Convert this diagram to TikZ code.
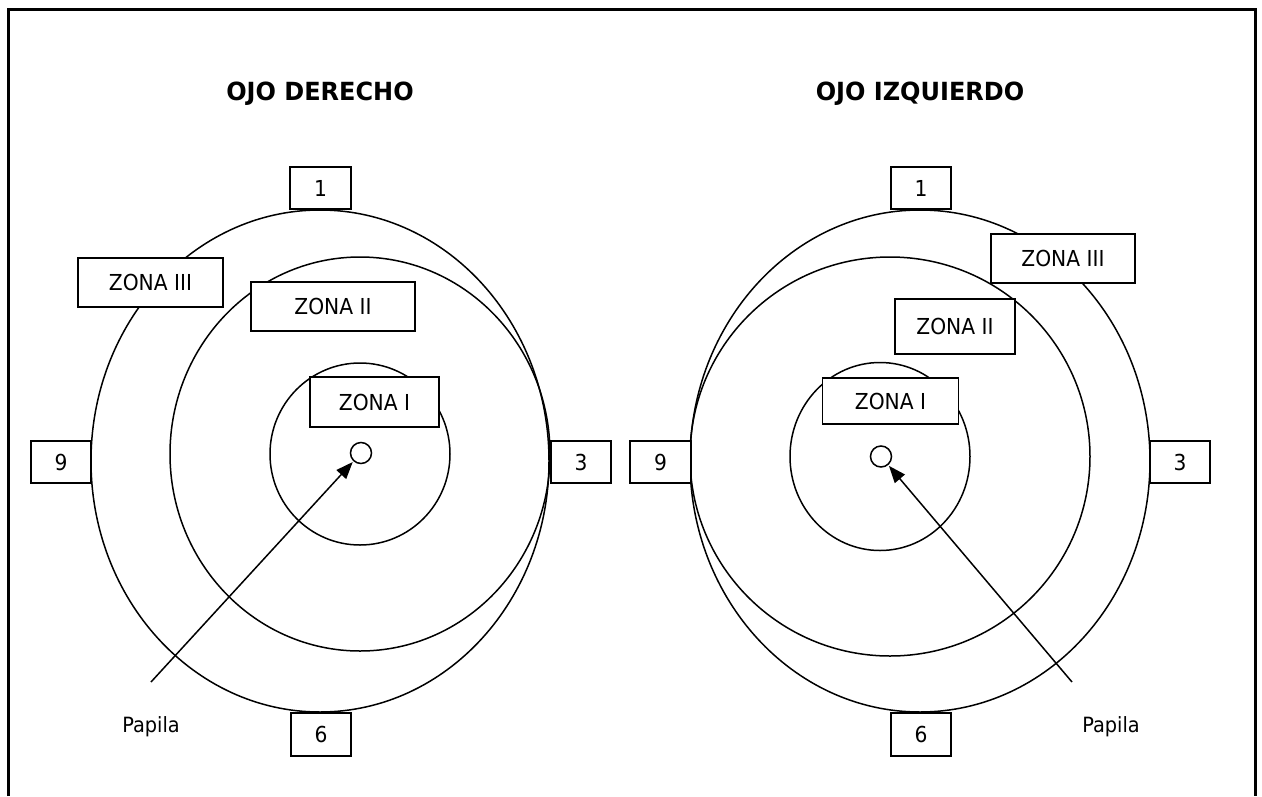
\documentclass[tikz,border=0pt]{standalone}
\usepackage{fontspec}
\setmainfont[FakeStretch=0.92]{DejaVu Sans}
\newfontfamily\ttlfont[FakeStretch=0.96]{DejaVu Sans}
\usetikzlibrary{arrows.meta}
\begin{document}
\begin{tikzpicture}[x=1pt,y=-1pt,
  box/.style={draw, fill=white, line width=1.5pt, rectangle, inner sep=0pt, font=\fontsize{22}{25}\selectfont},
  ring/.style={draw, line width=1.5pt},
  pap/.style={draw, circle, line width=1.5pt, minimum size=21pt, inner sep=0pt},
  ptr/.style={line width=1.5pt, shorten >=1pt, -{Triangle[length=17pt,width=13pt]}},
  ttl/.style={font=\ttlfont\fontsize{25}{29}\selectfont\bfseries, anchor=base},
  lab/.style={font=\fontsize{21}{24}\selectfont, anchor=base},
  frame/.style={line width=2.8pt}
]
\useasboundingbox (0,0) rectangle (1262,796);
% frame (open at the bottom)
\draw[frame] (8.5,796) -- (8.5,9.5) -- (1255.5,9.5) -- (1255.5,796);

% titles
\node[ttl] (tL) at (320,100) {OJO DERECHO};
\node[ttl] (tR) at (920,100) {OJO IZQUIERDO};

% ---- left eye (OJO DERECHO)
\draw[ring] (320,461) ellipse [x radius=229pt, y radius=251pt];
\draw[ring] (360,454) ellipse [x radius=190pt, y radius=197pt];
\draw[ring] (360,454) ellipse [x radius=90pt, y radius=91pt];
\node[pap] (papL) at (361,453) {};

\node[box, minimum width=61pt, minimum height=42pt] (n1L) at (320.5,188) {1};
\node[box, minimum width=60pt, minimum height=42pt] (n9L) at (61,462) {9};
\node[box, minimum width=60pt, minimum height=42pt] (n3L) at (581,462) {3};
\node[box, minimum width=60pt, minimum height=43pt] (n6L) at (321,734.5) {6};
\node[box, minimum width=145pt, minimum height=49pt] (z3L) at (150.5,282.5) {ZONA III};
\node[box, minimum width=164pt, minimum height=49pt] (z2L) at (333,306.5) {ZONA II};
\node[box, minimum width=129pt, minimum height=50pt] (z1L) at (374.5,402) {ZONA I};

\coordinate (aL) at (151,682);
\draw[ptr] (aL) -- (papL);
\node[lab] (pL) at (151,732.5) {Papila};

% ---- right eye (OJO IZQUIERDO)
\draw[ring] (920,461) ellipse [x radius=230pt, y radius=251pt];
\draw[ring] (890,456.5) ellipse [x radius=200pt, y radius=199.5pt];
\draw[ring] (880,456.5) ellipse [x radius=90pt, y radius=94pt];
\node[pap] (papR) at (881,456.5) {};

\node[box, minimum width=60pt, minimum height=42pt] (n1R) at (921,188) {1};
\node[box, minimum width=61pt, minimum height=42pt] (n9R) at (660.5,462) {9};
\node[box, minimum width=60pt, minimum height=42pt] (n3R) at (1180,462) {3};
\node[box, minimum width=60pt, minimum height=43pt] (n6R) at (921,734.5) {6};
\node[box, minimum width=144pt, minimum height=49pt] (z3R) at (1063,258.5) {ZONA III};
\node[box, minimum width=120pt, minimum height=55pt] (z2R) at (955,326.5) {ZONA II};
\node[box, minimum width=136pt, minimum height=46pt] (z1R) at (890.5,401) {ZONA I};

\coordinate (aR) at (1072,682);
\draw[ptr] (aR) -- (papR);
\node[lab] (pR) at (1111,732.5) {Papila};
\end{tikzpicture}
\end{document}
